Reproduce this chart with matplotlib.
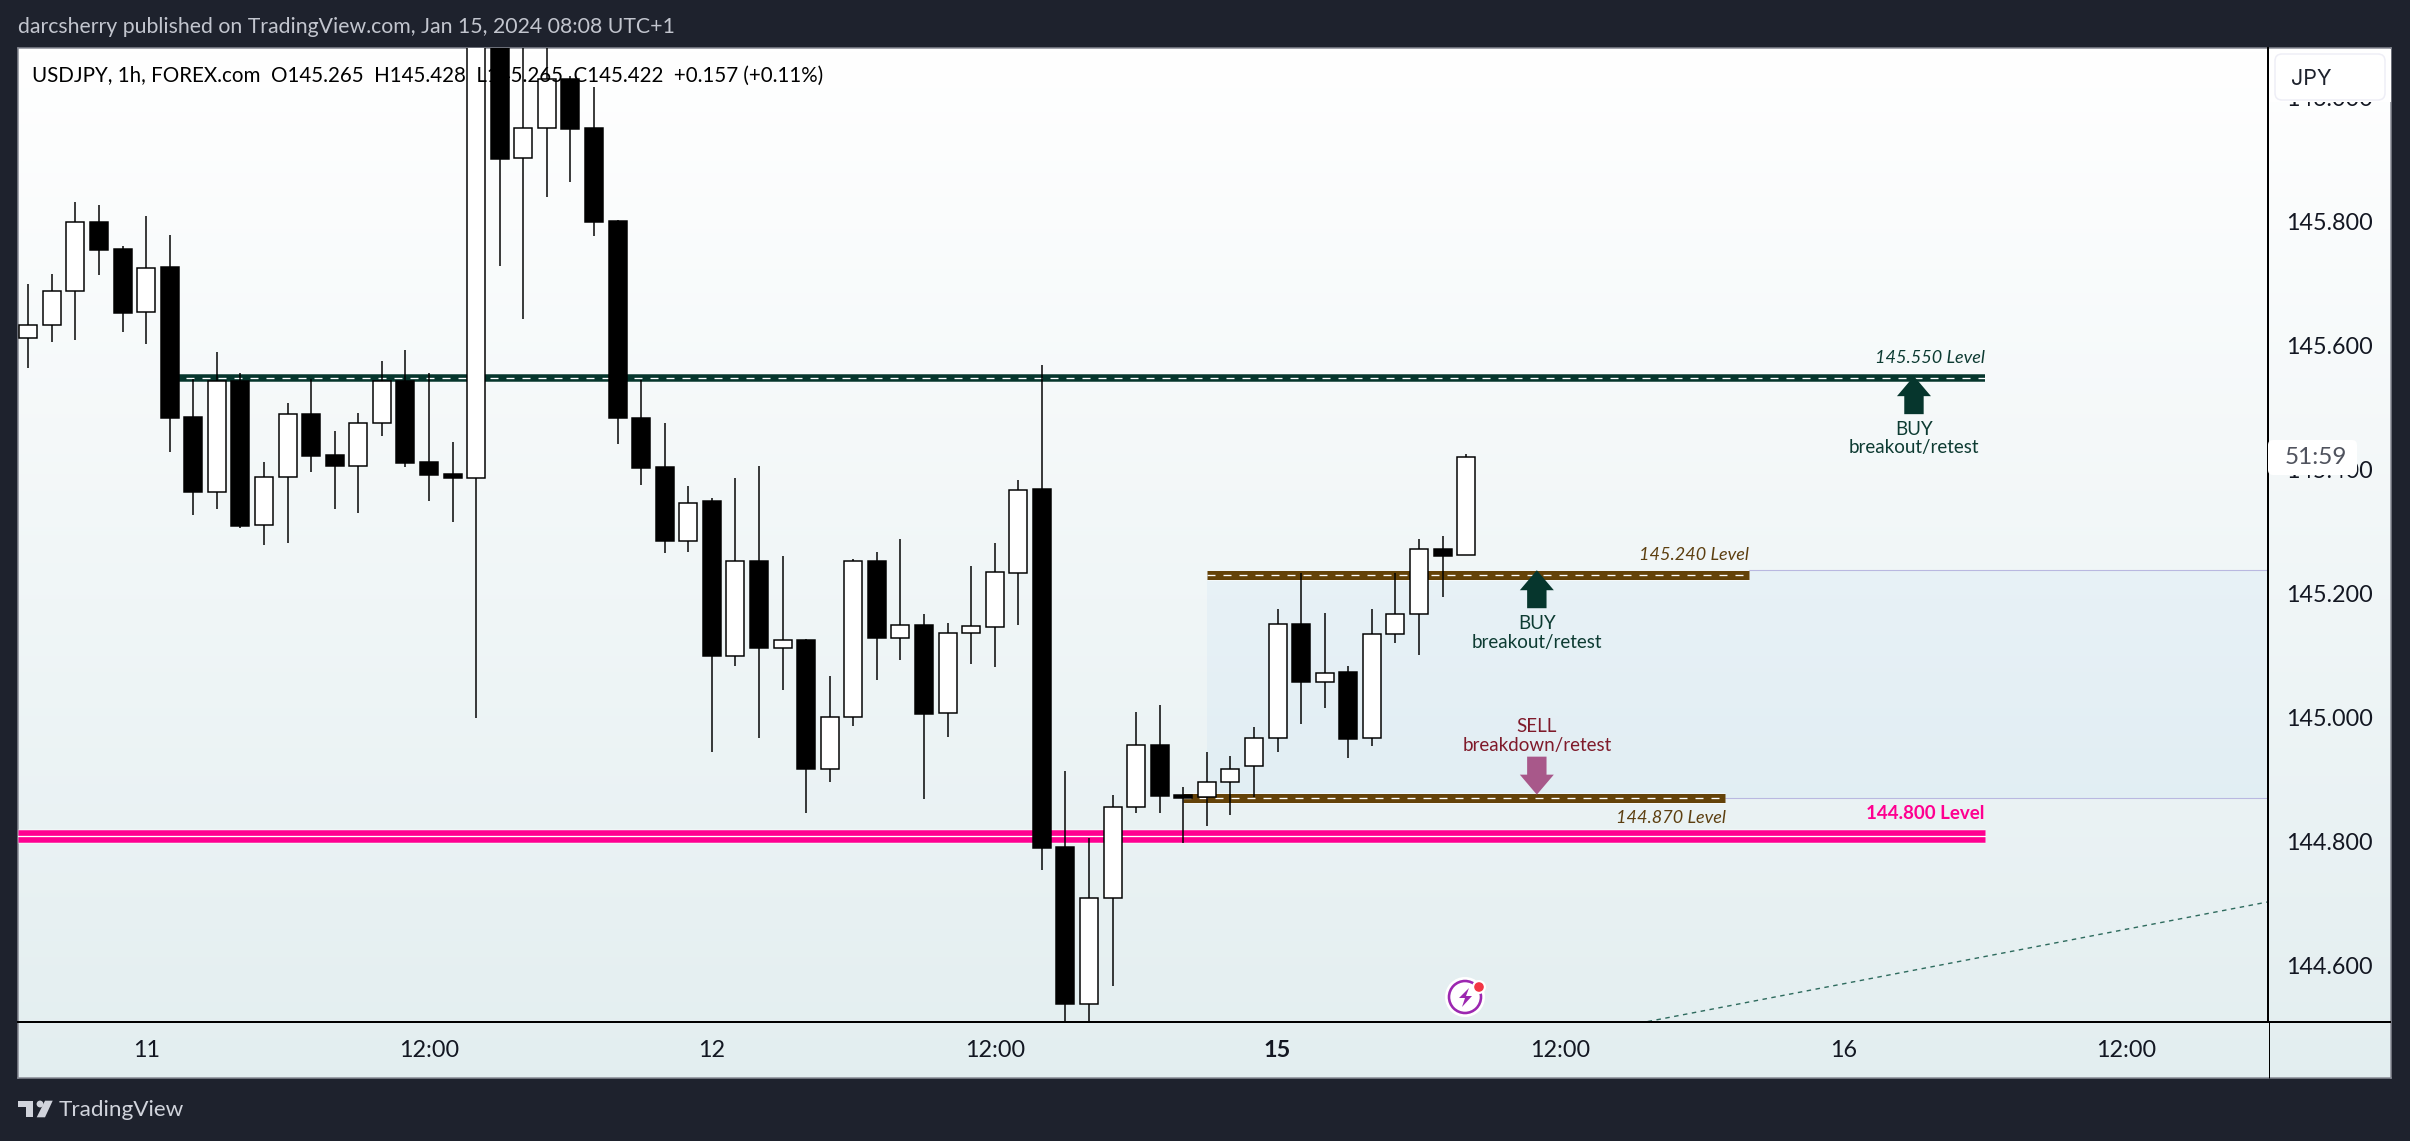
import numpy as np
import matplotlib
matplotlib.use("Agg")
import matplotlib.pyplot as plt
from matplotlib.patches import Rectangle, Circle, Polygon, FancyBboxPatch
from matplotlib.transforms import Affine2D

plt.rcParams['lines.scale_dashes'] = False
FONT = 'Lato'
plt.rcParams['font.family'] = [FONT, 'DejaVu Sans']

# ---- data (USDJPY 1h) ----
opens = [145.615,145.635,145.690,145.802,145.758,145.656,145.729,145.487,145.366,145.545,
         145.313,145.391,145.492,145.426,145.408,145.478,145.545,145.414,145.395,145.389,
         146.160,145.905,145.954,146.033,145.953,145.803,145.485,145.406,145.287,145.352,
         145.102,145.255,145.115,145.127,144.919,145.003,145.255,145.130,145.152,145.010,
         145.138,145.149,145.236,145.371,144.794,144.541,144.711,144.858,144.958,144.878,
         144.874,144.898,144.925,144.970,145.153,145.060,145.076,144.969,145.137,145.169,
         145.274,145.265]
highs = [145.702,145.718,145.834,145.829,145.763,145.811,145.781,145.548,145.592,145.558,
         145.414,145.510,145.548,145.465,145.494,145.577,145.595,145.558,145.447,146.200,
         146.200,146.150,146.120,146.037,146.019,145.805,145.547,145.478,145.376,145.356,
         145.389,145.408,145.263,145.129,145.069,145.258,145.269,145.290,145.169,145.155,
         145.247,145.284,145.386,145.571,144.916,144.808,144.877,145.011,145.023,144.891,
         144.947,144.940,144.987,145.177,145.235,145.171,145.085,145.177,145.236,145.290,
         145.295,145.428]
lows = [145.566,145.608,145.611,145.716,145.624,145.605,145.431,145.329,145.339,145.308,
        145.281,145.284,145.398,145.339,145.332,145.456,145.406,145.352,145.318,145.001,
        145.731,145.646,145.842,145.866,145.779,145.444,145.377,145.267,145.269,144.946,
        145.086,144.969,145.047,144.849,144.898,144.988,145.063,145.095,144.871,144.971,
        145.089,145.084,145.152,144.756,144.480,144.480,144.570,144.849,144.849,144.800,
        144.828,144.845,144.875,144.947,144.992,145.018,144.937,144.957,145.123,145.103,
        145.197,145.265]
closes = [145.635,145.690,145.801,145.756,145.655,145.728,145.486,145.366,145.545,145.311,
          145.391,145.492,145.424,145.408,145.478,145.545,145.413,145.394,145.388,146.160,
          145.904,145.954,146.032,145.952,145.802,145.485,145.405,145.287,145.348,145.102,
          145.255,145.115,145.127,144.919,145.003,145.255,145.130,145.151,145.008,145.139,
          145.150,145.237,145.370,144.792,144.541,144.711,144.858,144.958,144.876,144.873,
          144.898,144.920,144.970,145.153,145.060,145.075,144.968,145.137,145.170,145.274,
          145.263,145.422]

level_buy_high = 145.550
level_buy_mid = 145.232
level_zone_top = 145.240
level_sell_mid = 144.872
level_pink = 144.812
trend_x = [68.7, 95.02]
trend_y = [144.512, 144.705]

x_ticks = [5, 17, 29, 41, 53, 65, 77, 89]
x_labels = ['11', '12:00', '12', '12:00', '15', '12:00', '16', '12:00']
y_ticks = [144.6, 144.8, 145.0, 145.2, 145.4, 145.6, 145.8, 146.0]
y_labels = ['144.600', '144.800', '145.000', '145.200', '145.400', '145.600', '145.800', '146.000']

# ---- figure ----
W, H = 2410, 1141
DARK = '#1e222d'
fig = plt.figure(figsize=(W / 100, H / 100), dpi=100, facecolor=DARK)
px = Affine2D().scale(1 / W, -1 / H).translate(0, 1) + fig.transFigure
PT = 0.72  # points per pixel

# gradient pane
bg = fig.add_axes([18 / W, (H - 1078) / H, (2391 - 18) / W, (1078 - 48) / H], zorder=-2)
top_c = np.array([255, 255, 255]) / 255
bot_c = np.array([227, 238, 240]) / 255
t = np.linspace(0, 1, 256)[:, None, None]
bg.imshow(top_c[None, None, :] * (1 - t) + bot_c[None, None, :] * t, aspect='auto', extent=(0, 1, 0, 1))
bg.set_xticks([]); bg.set_yticks([])
for s in bg.spines.values():
    s.set_color('#868993'); s.set_linewidth(1.5 * PT)

ax = fig.add_axes([18 / W, (H - 1022) / H, (2268 - 18) / W, (1022 - 48) / H])
ax.patch.set_alpha(0)
ax.set_xlim(-0.437, 95.02)
ax.set_ylim(144.5113, 146.0823)
X_PX = (95.02 + 0.437) / 2250
Y_PX = (146.0823 - 144.5113) / 974

for s in ['top', 'left']:
    ax.spines[s].set_visible(False)
for s in ['right', 'bottom']:
    ax.spines[s].set_linewidth(2 * PT); ax.spines[s].set_color('#000000')
ax.yaxis.tick_right()
ax.set_xticks(x_ticks); ax.set_xticklabels(x_labels)
ax.set_yticks(y_ticks); ax.set_yticklabels(y_labels)
ax.tick_params(axis='x', length=0, pad=13, labelsize=16.8, labelcolor='#131722')
ax.tick_params(axis='y', length=0, pad=13, labelsize=16.8, labelcolor='#131722')
for lab in ax.get_yticklabels():
    lab.set_va('center')
for lab in ax.get_xticklabels():
    if lab.get_text() == '15':
        lab.set_fontweight('bold')

# legend (dark text over the candles: it vanishes on the black bodies)
ax.text(32 * X_PX - 0.437 - 18 * X_PX + 0, 146.0823 - (76 - 48) * Y_PX,
        'USDJPY, 1h, FOREX.com  O145.265  H145.428  L145.265  C145.422  +0.157 (+0.11%)',
        fontsize=14.8, color='#000000', va='center', ha='left', zorder=6)

# zone
ax.fill_between([50, 95.02], level_sell_mid, level_zone_top, color='#2196f3', alpha=0.045, lw=0, zorder=1)
ax.plot([73, 95.02], [level_zone_top] * 2, color='#b9b8e0', lw=1.1 * PT, zorder=1.2)
ax.plot([72, 95.02], [level_sell_mid] * 2, color='#b9b8e0', lw=1.1 * PT, zorder=1.2)

def band(x0, x1, y, color, w, inner_ls):
    ax.plot([x0, x1], [y, y], color='#ffffff', alpha=0.5, lw=(w + 2) * PT, solid_capstyle='butt', zorder=1.8)
    ax.plot([x0, x1], [y, y], color=color, lw=w * PT, solid_capstyle='butt', zorder=2)
    ax.plot([x0, x1], [y, y], color='#ffffff', lw=1.3 * PT, ls=inner_ls, dash_capstyle='butt', zorder=2.1)

dash = (0, (8 * PT, 8 * PT))
band(-0.437, 83, level_pink, '#ff0090', 12.5, '-')
band(6, 83, level_buy_high, '#06362d', 7.5, dash)
band(50, 73, level_buy_mid, '#644208', 9, dash)
band(49, 72, level_sell_mid, '#644208', 9, dash)

ax.plot(trend_x, trend_y, color='#2e6b5e', lw=1.4 * PT, ls=(0, (4.5 * PT, 4.5 * PT)), zorder=1.5)

# candles
idx = np.arange(len(opens))
o, h, l, c = map(np.array, (opens, highs, lows, closes))
up = c >= o
ax.vlines(idx, l, h, color='#000000', lw=1.5 * PT, zorder=3)
ax.bar(idx, np.abs(c - o), bottom=np.minimum(o, c), width=0.76,
       color=['#ffffff' if u else '#000000' for u in up], edgecolor='#000000', linewidth=1.5 * PT, zorder=3.2)

def arrow(i, tip, direction, color):
    hw, sw = 17 * X_PX, 9.7 * X_PX
    hl, sl = 20 * Y_PX * direction, 38 * Y_PX * direction
    pts = [(i, tip), (i + hw, tip - hl), (i + sw, tip - hl), (i + sw, tip - sl),
           (i - sw, tip - sl), (i - sw, tip - hl), (i - hw, tip - hl)]
    ax.add_patch(Polygon(pts, closed=True, fc=color, ec='none', zorder=4))

GREEN, BROWN, MAROON, PINK = '#0d3b32', '#5d3f10', '#7f1a2a', '#ff0090'
arrow(80, 145.553, 1, '#06362d')
arrow(64, 145.240, 1, '#06362d')
arrow(64, level_sell_mid + 0.006, -1, '#a8588a')

def note(i, price, dy_px, text, color, size=13.5, **kw):
    ax.annotate(text, (i, price), xytext=(0, -dy_px * PT), textcoords='offset points',
                color=color, fontsize=size, ha=kw.pop('ha', 'center'), va='center', zorder=5, **kw)

note(80, level_buy_high, 51, 'BUY', GREEN)
note(80, level_buy_high, 69, 'breakout/retest', GREEN)
note(64, level_buy_mid, 48.5, 'BUY', GREEN)
note(64, level_buy_mid, 67.5, 'breakout/retest', GREEN)
note(64, level_sell_mid, -71.5, 'SELL', MAROON)
note(64, level_sell_mid, -53, 'breakdown/retest', MAROON)
note(83, level_buy_high, -20, '145.550 Level', GREEN, size=13, ha='right', style='italic')
note(73, level_buy_mid, -20.5, '145.240 Level', BROWN, size=13, ha='right', style='italic')
note(72, level_sell_mid, 19.5, '144.870 Level', BROWN, size=13, ha='right', style='italic')
note(83, level_pink, -22.5, '144.800 Level', PINK, ha='right', weight='bold')

# chrome in pixel space
def line(xs, ys, color, w):
    fig.add_artist(plt.Line2D(xs, ys, transform=px, color=color, lw=w * PT, solid_capstyle='butt'))

line([2268, 2391], [1022, 1022], '#000000', 2)
line([2268.5, 2268.5], [1022, 1078], '#000000', 1)

fig.text(18, 27, 'darcsherry published on TradingView.com, Jan 15, 2024 08:08 UTC+1', transform=px,
         color='#c2c5ce', fontsize=15.3, va='center', ha='left')

# countdown
fig.add_artist(FancyBboxPatch((2270, 442), 85, 31, boxstyle='round,pad=2,rounding_size=5', transform=px,
                              fc='#ffffff', ec='none', zorder=6))
fig.text(2316, 458, '51:59', transform=px, color='#50535e', fontsize=17.5, ha='center', va='center', zorder=7)

# currency box
fig.add_artist(Rectangle((2269.5, 49), 121, 53, transform=px, fc='#ffffff', ec='none', zorder=6))
fig.add_artist(FancyBboxPatch((2281, 60), 98, 34, boxstyle='round,pad=6,rounding_size=7', transform=px,
                              fc='#ffffff', ec='#eeeef6', lw=1.5 * PT, zorder=6.5))
fig.text(2291, 79, 'JPY', transform=px, color='#1e222d', fontsize=15.5, family='Inter', ha='left', va='center', zorder=7)

# alert icon
ic = (1465, 997)
fig.add_artist(Circle(ic, 20, transform=px, fc='#ffffff', ec='none', zorder=6))
fig.add_artist(Circle(ic, 16, transform=px, fc='none', ec='#9c27b0', lw=2.6 * PT, zorder=6.2))
bolt = [(1469, 988), (1459, 998), (1465, 998), (1462, 1007), (1472, 996), (1466, 996)]
fig.add_artist(Polygon(bolt, closed=True, transform=px, fc='#9c27b0', ec='none', zorder=6.3))
fig.add_artist(Circle((1479, 987), 7, transform=px, fc='#ffffff', ec='none', zorder=6.4))
fig.add_artist(Circle((1479, 987), 4.8, transform=px, fc='#f23645', ec='none', zorder=6.5))

# TradingView logo
LOGO = '#d1d4dc'
fig.add_artist(Polygon([(18.3, 1100.7), (33.3, 1100.7), (33.3, 1117.3), (26, 1117.3), (26, 1106.7), (18.3, 1106.7)],
                       closed=True, transform=px, fc=LOGO, ec='none'))
fig.add_artist(Circle((40, 1104), 3.4, transform=px, fc=LOGO, ec='none'))
fig.add_artist(Polygon([(45, 1100.7), (52.7, 1100.7), (45, 1117.3), (36.7, 1117.3)],
                       closed=True, transform=px, fc=LOGO, ec='none'))
fig.text(59, 1110, 'TradingView', transform=px, color=LOGO, fontsize=16.2, va='center', ha='left')

fig.savefig('out.png', dpi=100, facecolor=DARK)
